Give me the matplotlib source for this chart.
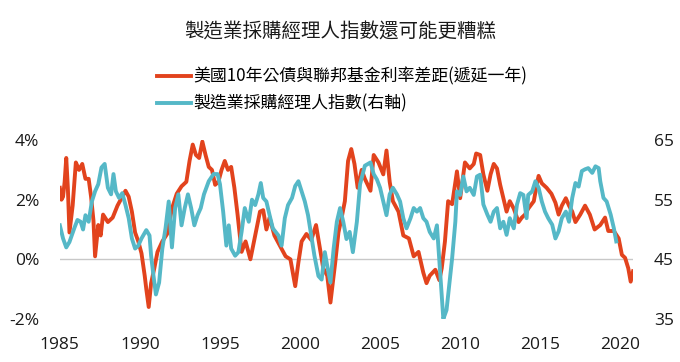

# plot.py
# Manufacturing PMI vs lagged US 10Y - Fed Funds spread (dual axis line chart)

import matplotlib
matplotlib.use("Agg")
import matplotlib.pyplot as plt
from matplotlib.ticker import FuncFormatter


# ─────────────────────────────────────────────────────────────────────────────
# DATA
# ─────────────────────────────────────────────────────────────────────────────

TITLE        = "製造業採購經理人指數還可能更糟糕"
SPREAD_LABEL = "美國10年公債與聯邦基金利率差距(遞延一年)"
PMI_LABEL    = "製造業採購經理人指數(右軸)"

spread_years = [
    1985.0, 1985.1, 1985.2, 1985.3, 1985.4, 1985.5, 1985.6, 1985.8, 1986.0, 1986.2,
    1986.4, 1986.6, 1986.8, 1986.95, 1987.1, 1987.2, 1987.4, 1987.55, 1987.7, 1988.0,
    1988.3, 1988.6, 1988.9, 1989.1, 1989.3, 1989.5, 1989.7, 1989.9, 1990.1, 1990.3,
    1990.4, 1990.55, 1990.7, 1990.9, 1991.1, 1991.4, 1991.7, 1992.0, 1992.3, 1992.6,
    1992.9, 1993.1, 1993.3, 1993.5, 1993.7, 1993.9, 1994.1, 1994.3, 1994.5, 1994.7,
    1994.9, 1995.1, 1995.3, 1995.5, 1995.7, 1995.9, 1996.1, 1996.35, 1996.6, 1996.9,
    1997.2, 1997.5, 1997.7, 1997.9, 1998.1, 1998.4, 1998.75, 1999.1, 1999.4, 1999.7,
    1999.9, 2000.1, 2000.4, 2000.7, 2001.0, 2001.25, 2001.45, 2001.7, 2001.9, 2002.2,
    2002.4, 2002.6, 2002.8, 2003.0, 2003.2, 2003.4, 2003.6, 2003.85, 2004.05, 2004.4,
    2004.6, 2004.9, 2005.2, 2005.4, 2005.6, 2005.8, 2006.15, 2006.45, 2006.8, 2007.1,
    2007.4, 2007.7, 2007.9, 2008.1, 2008.45, 2008.7, 2008.85, 2009.05, 2009.25, 2009.5,
    2009.8, 2010.0, 2010.3, 2010.6, 2010.85, 2011.0, 2011.25, 2011.45, 2011.7, 2011.9,
    2012.1, 2012.3, 2012.5, 2012.7, 2012.9, 2013.1, 2013.35, 2013.65, 2013.85, 2014.05,
    2014.25, 2014.6, 2014.8, 2014.9, 2015.1, 2015.4, 2015.7, 2015.95, 2016.15, 2016.35,
    2016.6, 2016.8, 2017.0, 2017.2, 2017.5, 2017.8, 2018.1, 2018.4, 2018.75, 2019.05,
    2019.25, 2019.6, 2019.9, 2020.1, 2020.3, 2020.5, 2020.65, 2020.8,
]
spread_pct = [
    2.4, 2.0, 2.1, 2.6, 3.4, 2.4, 0.9, 1.8, 3.25, 3.0,
    3.2, 2.7, 2.7, 2.1, 1.3, 0.1, 1.15, 0.8, 1.5, 1.25,
    1.4, 1.8, 2.1, 2.3, 2.1, 1.6, 0.9, 0.6, 0.2, -0.55,
    -1.0, -1.6, -0.8, -0.3, 0.25, 0.6, 0.85, 1.7, 2.2, 2.45,
    2.6, 3.3, 3.85, 3.5, 3.4, 3.95, 3.5, 3.1, 3.0, 2.5,
    2.6, 3.0, 3.3, 3.0, 3.1, 2.4, 1.5, 0.25, 0.6, 0.0,
    0.8, 1.6, 1.65, 1.0, 1.4, 0.8, 0.45, 0.1, 0.0, -0.9,
    -0.1, 0.6, 0.85, 0.65, 1.15, 0.35, -0.3, -0.55, -1.45, -0.1,
    0.9, 1.4, 1.95, 3.3, 3.7, 3.2, 2.4, 3.0, 2.7, 2.3,
    3.5, 3.25, 2.85, 3.65, 2.6, 1.95, 1.6, 0.8, 0.7, 0.1,
    0.25, -0.45, -0.8, -0.55, -0.35, -0.7, -0.3, 0.6, 1.95, 1.85,
    2.95, 2.05, 3.25, 3.05, 3.2, 3.55, 3.5, 2.85, 2.3, 2.85,
    3.2, 3.05, 2.5, 2.05, 1.6, 1.95, 1.7, 1.25, 1.4, 1.5,
    1.7, 1.95, 2.55, 2.8, 2.55, 2.4, 2.2, 1.9, 1.5, 1.8,
    2.05, 1.8, 1.6, 1.25, 1.5, 1.8, 1.5, 1.0, 1.15, 1.4,
    0.95, 0.95, 0.7, 0.15, 0.05, -0.3, -0.75, -0.4,
]

pmi_years = [
    1985.0, 1985.2, 1985.4, 1985.6, 1985.9, 1986.1, 1986.3, 1986.45, 1986.6, 1986.8,
    1987.0, 1987.2, 1987.4, 1987.6, 1987.8, 1988.0, 1988.2, 1988.35, 1988.5, 1988.7,
    1988.9, 1989.1, 1989.3, 1989.5, 1989.7, 1989.9, 1990.1, 1990.4, 1990.6, 1990.7,
    1990.85, 1991.0, 1991.2, 1991.4, 1991.6, 1991.8, 1992.0, 1992.2, 1992.4, 1992.6,
    1992.8, 1993.0, 1993.2, 1993.4, 1993.6, 1993.8, 1994.0, 1994.3, 1994.6, 1994.85,
    1995.0, 1995.2, 1995.4, 1995.55, 1995.7, 1995.95, 1996.15, 1996.35, 1996.55, 1996.8,
    1997.0, 1997.2, 1997.4, 1997.55, 1997.7, 1997.9, 1998.1, 1998.3, 1998.65, 1998.85,
    1999.05, 1999.25, 1999.5, 1999.7, 1999.9, 2000.1, 2000.3, 2000.5, 2000.7, 2000.9,
    2001.15, 2001.35, 2001.55, 2001.7, 2001.9, 2002.1, 2002.3, 2002.5, 2002.7, 2002.9,
    2003.1, 2003.3, 2003.55, 2003.75, 2004.05, 2004.4, 2004.6, 2004.8, 2005.0, 2005.2,
    2005.4, 2005.6, 2005.8, 2006.05, 2006.25, 2006.45, 2006.65, 2006.9, 2007.1, 2007.3,
    2007.5, 2007.7, 2007.9, 2008.1, 2008.35, 2008.55, 2008.75, 2008.95, 2009.15, 2009.25,
    2009.5, 2009.7, 2009.8, 2010.0, 2010.2, 2010.4, 2010.6, 2010.85, 2011.05, 2011.25,
    2011.45, 2011.7, 2011.9, 2012.1, 2012.3, 2012.5, 2012.7, 2012.9, 2013.1, 2013.35,
    2013.55, 2013.75, 2013.95, 2014.15, 2014.25, 2014.5, 2014.7, 2014.9, 2015.1, 2015.3,
    2015.5, 2015.75, 2015.95, 2016.15, 2016.35, 2016.6, 2016.8, 2017.0, 2017.2, 2017.4,
    2017.6, 2017.8, 2018.0, 2018.25, 2018.45, 2018.65, 2018.75, 2018.95, 2019.15, 2019.4,
    2019.6, 2019.75,
]
pmi_values = [
    50.7, 48.5, 47.0, 47.9, 50.2, 51.6, 51.3, 50.0, 52.4, 51.3,
    54.7, 56.4, 57.6, 60.4, 61.0, 57.0, 55.9, 59.3, 56.4, 55.3,
    56.1, 54.1, 51.9, 48.5, 46.8, 47.3, 48.5, 49.9, 49.0, 45.6,
    42.2, 39.1, 41.1, 46.8, 50.2, 54.7, 47.0, 53.6, 55.9, 50.7,
    53.6, 55.9, 53.6, 50.7, 52.4, 53.6, 55.9, 58.1, 59.3, 59.3,
    57.6, 53.0, 47.3, 50.7, 46.8, 45.6, 46.2, 49.6, 53.6, 51.3,
    55.0, 54.1, 55.9, 57.8, 55.3, 54.7, 52.4, 50.2, 49.0, 47.3,
    51.9, 54.1, 55.3, 57.3, 58.1, 56.4, 54.7, 52.4, 49.0, 45.6,
    42.2, 41.6, 46.2, 43.9, 41.1, 46.8, 51.3, 53.6, 51.3, 48.4,
    49.6, 46.2, 51.3, 57.6, 60.7, 61.25, 59.3, 58.4, 57.0, 54.7,
    52.4, 55.9, 57.0, 55.9, 54.7, 51.9, 50.2, 51.9, 53.6, 53.0,
    53.6, 51.9, 51.3, 49.6, 48.5, 50.7, 42.8, 35.0, 36.5, 39.0,
    45.2, 51.3, 56.4, 55.8, 58.9, 56.4, 57.0, 55.8, 58.9, 59.2,
    54.2, 52.5, 51.3, 53.0, 53.6, 50.2, 51.3, 49.1, 51.9, 50.2,
    54.2, 56.1, 55.8, 51.9, 55.8, 56.4, 58.1, 57.0, 54.7, 53.0,
    51.9, 50.8, 48.5, 49.7, 51.9, 53.0, 51.3, 55.3, 57.8, 57.2,
    59.8, 60.1, 60.3, 59.5, 60.6, 60.3, 58.1, 55.3, 54.7, 52.5,
    50.2, 48.0,
]

x_ticks     = [1985, 1990, 1995, 2000, 2005, 2010, 2015, 2020]
left_ticks  = [-2, 0, 2, 4]
right_ticks = [35, 45, 55, 65]


# ─────────────────────────────────────────────────────────────────────────────
# STYLE
# ─────────────────────────────────────────────────────────────────────────────

RED  = "#E2431D"
TEAL = "#55B8C7"
CJK  = ["Noto Sans CJK TC", "DejaVu Sans"]
TICK_FONT = ["Open Sans", "DejaVu Sans"]

plt.rcParams["font.family"] = CJK


# ─────────────────────────────────────────────────────────────────────────────
# PLOT
# ─────────────────────────────────────────────────────────────────────────────

fig = plt.figure(figsize=(6.8, 3.62), dpi=100)
ax  = fig.add_axes([0.088, 0.119, 0.843, 0.494])
ax2 = ax.twinx()

line_spread, = ax.plot(spread_years, spread_pct, color=RED, lw=2.8,
                       solid_joinstyle="round", label=SPREAD_LABEL)
line_pmi,    = ax2.plot(pmi_years, pmi_values, color=TEAL, lw=2.8,
                        solid_joinstyle="round", label=PMI_LABEL)

ax.axhline(0, color="#C8C8C8", lw=1.0, zorder=0)

ax.set_xlim(1985.0, 2020.8)
ax.set_ylim(-2, 4)
ax2.set_ylim(35, 65)

ax.set_xticks(x_ticks)
ax.set_yticks(left_ticks)
ax2.set_yticks(right_ticks)
ax.yaxis.set_major_formatter(FuncFormatter(lambda v, _: f"{v:.0f}%"))

for a in (ax, ax2):
    for s in a.spines.values():
        s.set_visible(False)
    a.tick_params(length=0, labelsize=12.5, colors="#1A1A1A")
    for lbl in a.get_xticklabels() + a.get_yticklabels():
        lbl.set_fontfamily(TICK_FONT)

ax.tick_params(axis="x", pad=13)
ax.tick_params(axis="y", pad=15)
ax2.tick_params(axis="y", pad=15)

fig.text(0.5, 1 - 32 / 362, TITLE, ha="center", va="center",
         fontsize=14, fontweight="medium", color="#1A1A1A")

fig.legend(
    handles=[line_spread, line_pmi],
    loc="center left",
    bbox_to_anchor=(157 / 680, 1 - 90 / 362),
    frameon=False,
    prop={"size": 12.2, "weight": "medium"},
    handlelength=2.0,
    handletextpad=0.15,
    labelspacing=0.5,
    borderpad=0,
    borderaxespad=0,
)

fig.savefig("out.png", dpi=100)
plt.close(fig)
